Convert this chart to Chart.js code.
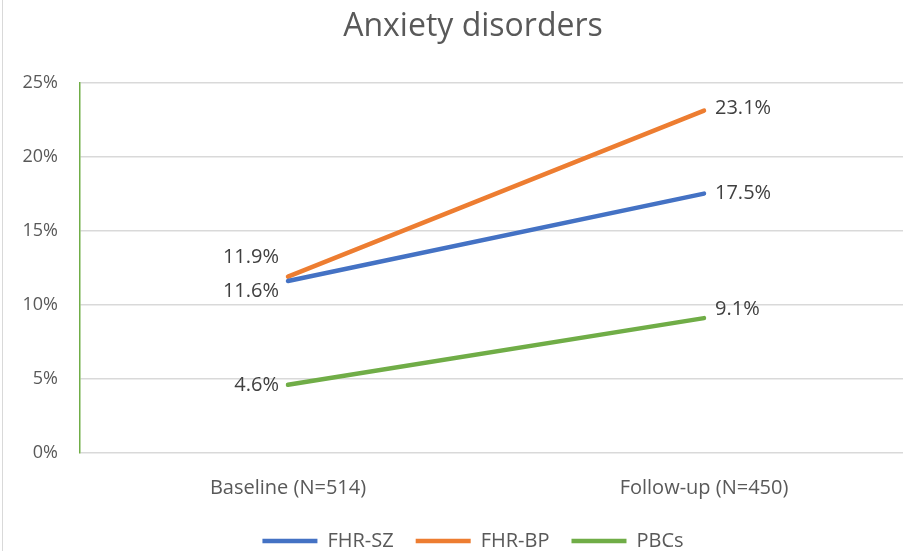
<!DOCTYPE html>
<html>
<head>
<meta charset="utf-8">
<script src="https://cdn.jsdelivr.net/npm/chart.js@4/dist/chart.umd.min.js"></script>
<style>
  html, body { margin: 0; padding: 0; background: #fff; overflow: hidden; }
  #wrap { position: absolute; left: 0; top: 0; width: 946px; height: 561px; }
  #frame { position: absolute; left: 2px; top: 0; width: 1px; height: 561px; background: #d9d9d9; }
</style>
</head>
<body>
<div id="wrap"><canvas id="c" width="946" height="561"></canvas></div>
<div id="frame"></div>
<script>
// Share of each group with an anxiety disorder (%)
const categories = ['Baseline (N=514)', 'Follow-up (N=450)'];
const seriesNames = ['FHR-SZ', 'FHR-BP', 'PBCs'];
const fhrSZ = [11.6, 17.5];
const fhrBP = [11.9, 23.1];
const pbcs = [4.6, 9.1];
const yTicks = [0, 5, 10, 15, 20, 25];

const colors = ['#4472C4', '#ED7D31', '#70AD47'];
const textColor = '#595959';
const FONT = "'Open Sans', 'Noto Sans', sans-serif";

// Where each value label sits relative to its point: [dx, dy, align] per dataset, per category
const labelPlacement = [
  [[-9, 10, 'right'], [11, 0, 'left']],
  [[-9, -19, 'right'], [11, -2, 'left']],
  [[-9, 0, 'right'], [11, -9, 'left']]
];

const valueLabels = {
  id: 'valueLabels',
  afterDatasetsDraw(chart) {
    const ctx = chart.ctx;
    ctx.save();
    ctx.font = "20px " + FONT;
    ctx.fillStyle = '#404040';
    ctx.textBaseline = 'middle';
    chart.data.datasets.forEach((ds, di) => {
      const meta = chart.getDatasetMeta(di);
      meta.data.forEach((pt, i) => {
        const [dx, dy, align] = labelPlacement[di][i];
        ctx.textAlign = align;
        ctx.fillText(ds.data[i].toFixed(1) + '%', pt.x + dx, pt.y + dy);
      });
    });
    ctx.restore();
  }
};

const seriesData = [fhrSZ, fhrBP, pbcs];

new Chart(document.getElementById('c'), {
  type: 'line',
  data: {
    labels: categories,
    datasets: seriesNames.map((name, i) => ({
      label: name,
      data: seriesData[i],
      borderColor: colors[i],
      backgroundColor: colors[i],
      borderWidth: 4.5,
      pointRadius: 0,
      pointHoverRadius: 0,
      tension: 0,
      borderCapStyle: 'round'
    }))
  },
  options: {
    responsive: false,
    animation: false,
    layout: { padding: { left: 0, right: 0, top: 8, bottom: 0 } },
    plugins: {
      title: {
        display: true,
        text: 'Anxiety disorders',
        color: textColor,
        font: { family: FONT, size: 32, weight: 'normal' },
        padding: { top: 0, bottom: 36 }
      },
      legend: {
        position: 'bottom',
        labels: {
          color: textColor,
          font: { family: FONT, size: 20 },
          usePointStyle: true,
          pointStyle: 'line',
          pointStyleWidth: 55,
          padding: 22
        }
      },
      tooltip: { enabled: false }
    },
    scales: {
      x: {
        offset: true,
        grid: { display: false, drawTicks: false },
        border: { display: false },
        ticks: { color: textColor, font: { family: FONT, size: 20 }, padding: 23 },
        afterFit(scale) { scale.height = 56; }
      },
      y: {
        min: 0,
        max: 25,
        afterBuildTicks(scale) { scale.ticks = yTicks.map(v => ({ value: v })); },
        grid: { color: '#d9d9d9', lineWidth: 1.5, drawTicks: false },
        border: { display: true, color: '#70AD47', width: 1.5 },
        ticks: {
          color: textColor,
          font: { family: FONT, size: 18 },
          padding: 22,
          callback: v => v + '%'
        },
        afterFit(scale) { scale.width = 80; }
      },
      // empty right-hand strip so the plot stops short of the frame edge
      yRight: {
        position: 'right',
        grid: { display: false, drawTicks: false },
        border: { display: false },
        ticks: { display: false },
        afterFit(scale) { scale.width = 34; }
      }
    }
  },
  plugins: [valueLabels]
});
</script>
</body>
</html>
